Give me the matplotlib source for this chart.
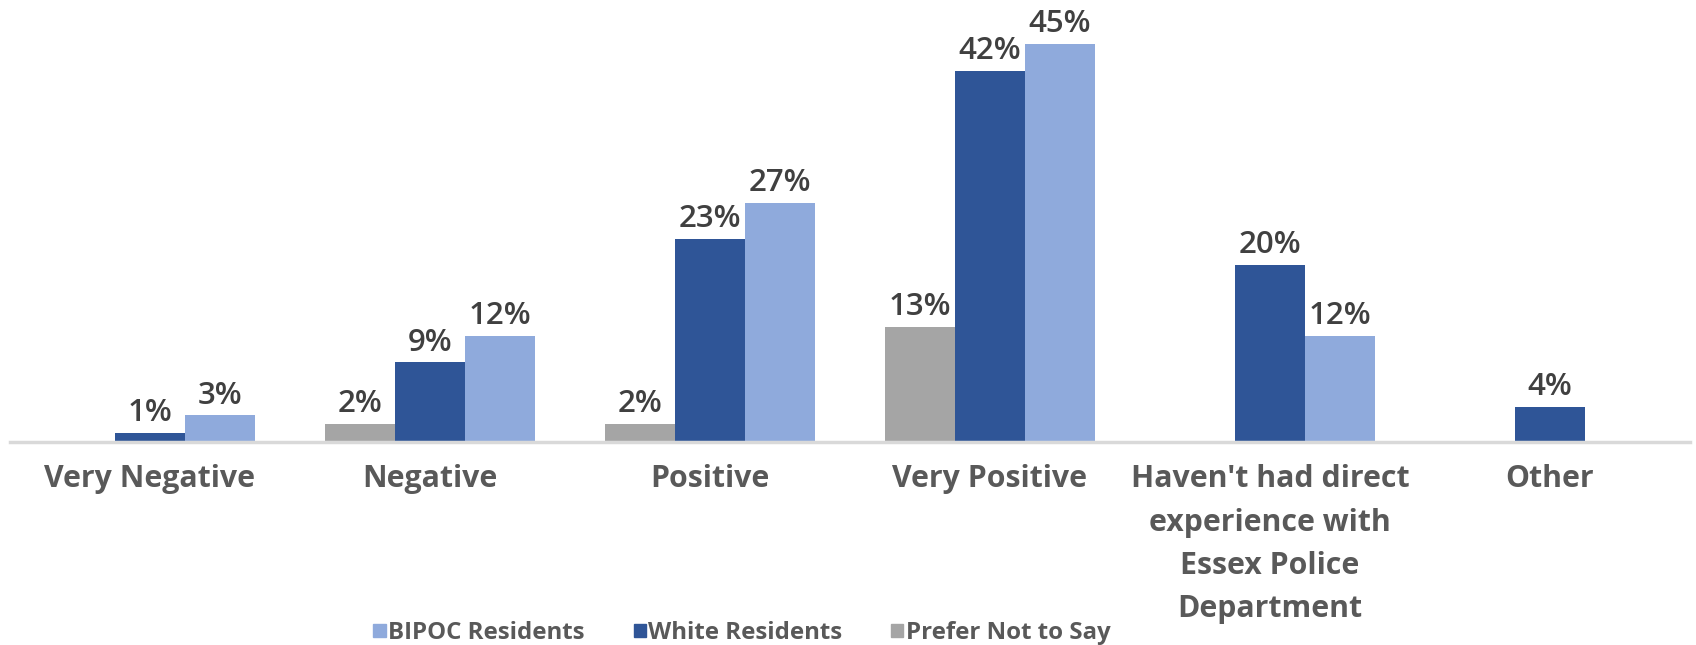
import matplotlib
matplotlib.use("Agg")
import matplotlib.pyplot as plt
from matplotlib.patches import Patch
import numpy as np

categories = ["Very Negative", "Negative", "Positive", "Very Positive",
              "Haven't had direct\nexperience with\nEssex Police\nDepartment", "Other"]
prefer_not = [None, 2, 2, 13, None, None]
white = [1, 9, 23, 42, 20, 4]
bipoc = [3, 12, 27, 45, 12, None]

series = [("Prefer Not to Say", prefer_not, "#A5A5A5"),
          ("White Residents", white, "#2F5597"),
          ("BIPOC Residents", bipoc, "#8FAADC")]

plt.rcParams['font.family'] = ['Open Sans', 'DejaVu Sans']

fig = plt.figure(figsize=(16.96, 6.45), dpi=100)
ax = fig.add_axes([10/1696, (645-442)/645, 1680/1696, 442/645])

x = np.arange(len(categories))
w = 0.25
for i, (name, vals, col) in enumerate(series):
    off = (i - 1) * w
    for xi, v in zip(x, vals):
        if v is None:
            continue
        ax.bar(xi + off, v, width=w, color=col, edgecolor='none', zorder=2)
        ax.text(xi + off, v + 0.55, f"{v}%", ha='center', va='bottom',
                fontsize=22.5, color='#404040', fontweight='semibold', zorder=3)

ax.set_xlim(-0.5, len(categories) - 0.5)
ax.set_ylim(0, 50)
for s in ['top', 'right', 'left']:
    ax.spines[s].set_visible(False)
ax.spines['bottom'].set_color('#D9D9D9')
ax.spines['bottom'].set_linewidth(2.5)
ax.set_yticks([])
ax.set_xticks(x)
ax.set_xticklabels(categories, fontsize=21.8, fontweight='bold', color='#595959',
                   linespacing=1.58)
ax.tick_params(axis='x', length=0, pad=16)

handles = [Patch(color="#8FAADC", label="BIPOC Residents"),
           Patch(color="#2F5597", label="White Residents"),
           Patch(color="#A5A5A5", label="Prefer Not to Say")]
leg = fig.legend(handles=handles, loc='center', bbox_to_anchor=(742/1696, 1 - 633/645),
                 ncol=3, frameon=False, fontsize=17.3, handlelength=0.5, handleheight=0.5,
                 handletextpad=0.1, columnspacing=2.05, borderpad=0)
for t in leg.get_texts():
    t.set_color('#595959')
    t.set_fontweight('bold')

fig.savefig("out.png", dpi=100)
